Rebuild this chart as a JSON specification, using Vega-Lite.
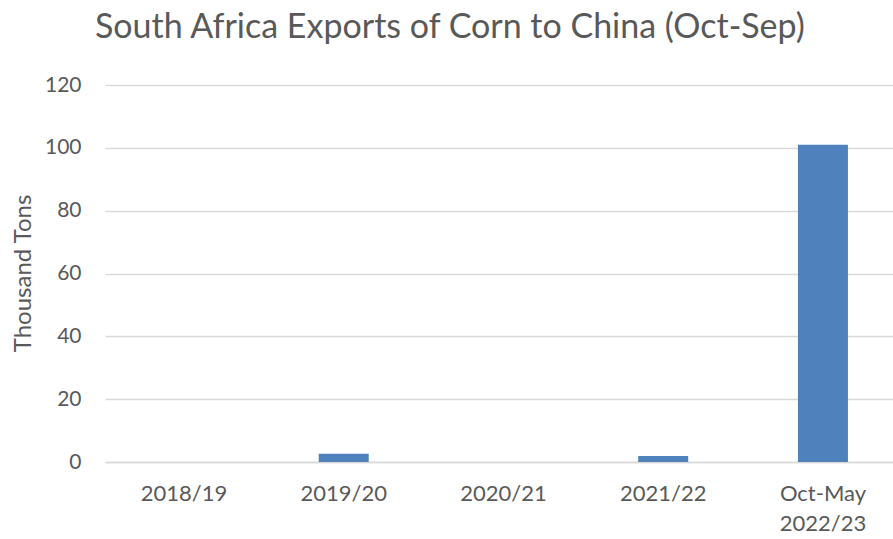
{
  "$schema": "https://vega.github.io/schema/vega-lite/v6.json",
  "width": 788,
  "height": 377,
  "autosize": {"type": "none"},
  "padding": {"left": 105, "top": 85, "right": 0, "bottom": 77},
  "background": "white",
  "title": {
    "text": "South Africa Exports of Corn to China (Oct-Sep)",
    "anchor": "start",
    "frame": "group",
    "dx": -10,
    "offset": 2,
    "baseline": "alphabetic",
    "font": "Lato",
    "fontSize": 34,
    "fontWeight": "normal",
    "color": "#595959"
  },
  "data": {
    "values": [
      {"year": "2018/19", "tons": 0},
      {"year": "2019/20", "tons": 2.6},
      {"year": "2020/21", "tons": 0},
      {"year": "2021/22", "tons": 1.9},
      {"year": "Oct-May 2022/23", "tons": 101}
    ]
  },
  "mark": {"type": "bar", "color": "#4f81bd"},
  "encoding": {
    "x": {
      "field": "year",
      "type": "nominal",
      "sort": null,
      "scale": {"paddingInner": 0.687, "paddingOuter": 0.31, "align": 0.545},
      "axis": {
        "title": null,
        "labelAngle": 0,
        "labelExpr": "datum.label == 'Oct-May 2022/23' ? ['Oct-May', '2022/23'] : datum.label",
        "labelLineHeight": 30,
        "labelPadding": 21,
        "ticks": false,
        "domainColor": "#d9d9d9",
        "domainWidth": 1.5,
        "labelFont": "Lato",
        "labelFontSize": 22,
        "labelColor": "#595959"
      }
    },
    "y": {
      "field": "tons",
      "type": "quantitative",
      "scale": {"domain": [0, 120]},
      "axis": {
        "title": "Thousand Tons",
        "values": [0, 20, 40, 60, 80, 100, 120],
        "ticks": false,
        "domain": false,
        "gridColor": "#d9d9d9",
        "gridWidth": 1.5,
        "labelPadding": 24,
        "labelFont": "Lato",
        "labelFontSize": 21,
        "labelColor": "#595959",
        "titleFont": "Lato",
        "titleFontSize": 24,
        "titleFontWeight": "normal",
        "titleColor": "#595959",
        "titleX": -82,
        "titleY": 188,
        "titleAngle": -90,
        "titleAlign": "center",
        "titleBaseline": "middle"
      }
    }
  },
  "config": {"view": {"stroke": null}}
}
